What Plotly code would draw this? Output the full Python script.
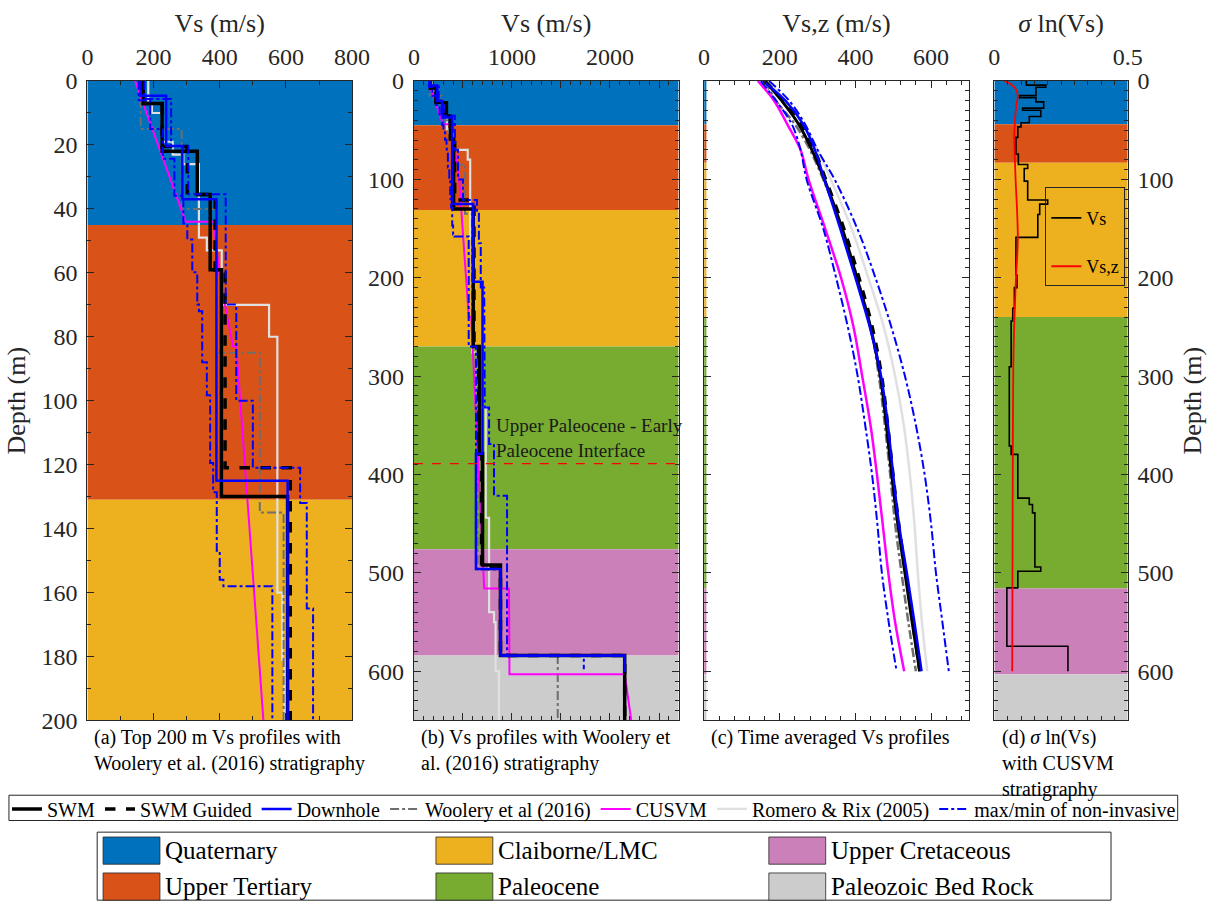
import plotly.graph_objects as go

W, H = 1231, 919
FONT = "Liberation Serif"
INK = "#262626"

# ---------------- stratigraphy ----------------
strata_names = ["Quaternary", "Upper Tertiary", "Claiborne/LMC", "Paleocene",
                "Upper Cretaceous", "Paleozoic Bed Rock"]
strata_colors = ["#0072BD", "#D95319", "#EDB120", "#77AC30", "#CC80B9", "#CCCCCC"]
woolery_tops = [0, 45, 131, 270, 476, 584]
cusvm_tops = [0, 44, 83, 240, 516, 603]
strata_bottom = 650
interface_depth = 389

# ---------------- Vs profiles (layer top depth m, Vs m/s) ----------------
swm_tops = [0, 7, 22, 35.5, 59, 130, 270, 379, 492, 584]
swm_vs = [169, 226, 332, 371, 405, 605, 667, 700, 883, 2150]
swm_bottom = 650

guided_tops = [0, 7, 20.5, 35.5, 60, 121, 270, 379, 495, 584]
guided_vs = [169, 226, 302, 386, 416, 613, 660, 690, 883, 2150]
guided_bottom = 650

downhole_tops = [0, 4.6, 20.3, 37, 125, 204, 379, 496, 584]
downhole_vs = [161, 238, 287, 390, 605, 700, 633, 883, 2150]
downhole_bottom = 601

woolery_layer_tops = [0, 15, 40, 85, 135, 270, 497, 584]
woolery_vs = [161, 285, 390, 521, 593, 650, 883, 1467]
woolery_bottom = 650

rr_tops = [0, 7, 10, 19, 23, 26, 49, 53, 70, 80, 160, 181, 276, 332, 444, 540, 550, 600]
rr_vs = [184, 195, 228, 258, 290, 337, 361, 406, 549, 574, 589, 596, 650, 733, 767, 817, 833, 867]
rr_bottom = 650

max_tops = [0, 5.6, 20.3, 35.4, 69.9, 100, 121, 132, 165, 210, 276, 332, 369, 421.5, 584.4]
max_vs = [172, 253, 305, 418, 450, 500, 643, 663, 682, 717, 723, 767, 817, 950, 2150]
max_bottom = 601

min_tops = [0, 6, 15, 24.3, 35.9, 44.6, 49.6, 59.8, 69.9, 72, 88, 98.3, 119.5, 128.6,
            146.9, 156, 158, 270, 496, 584.4]
min_vs = [155, 190, 228, 263, 290, 302, 317, 332, 337, 347, 361, 371, 380, 391,
          400, 411, 559, 633, 883, 1733]
min_bottom = 598

cusvm_depth = [0, 44, 44, 62, 83, 83, 240, 240, 516, 516, 603, 603, 650]
cusvm_vs = [144, 297, 381, 401, 440, 450, 560, 585, 717, 970, 975, 2150, 2217]

# ---------------- time averaged Vs,z ----------------
vsz_depth = [0, 20, 44, 70, 100, 150, 200, 250, 300, 350, 400, 450, 500, 550, 600]
vsz_swm = [161, 205, 250, 285, 318, 365, 404, 440, 466, 482, 496, 512, 531, 550, 570]
vsz_guided = [161, 210, 255, 292, 322, 370, 410, 445, 470, 486, 500, 515, 533, 551, 570]
vsz_downhole = [155, 215, 262, 293, 318, 360, 400, 438, 468, 486, 500, 515, 536, 556, 575]
vsz_woolery = [161, 190, 240, 280, 315, 365, 405, 440, 462, 478, 492, 505, 522, 540, 560]
vsz_cusvm = [142, 185, 220, 255, 276, 320, 362, 395, 418, 440, 457, 472, 487, 505, 529]
vsz_rr = [170, 215, 262, 300, 335, 390, 434, 475, 505, 528, 544, 556, 565, 576, 590]
vsz_max = [172, 225, 267, 300, 345, 405, 453, 495, 531, 560, 583, 600, 613, 630, 647]
vsz_min = [150, 190, 232, 255, 271, 315, 349, 380, 406, 426, 444, 458, 470, 488, 509]

# ---------------- sigma ln(Vs) ----------------
sig_tops = [0, 4.2, 6.4, 14.8, 17, 21.2, 27.6, 29.7, 36, 42.4, 46.6, 57.3, 74.2, 84.8,
            89, 101.8, 120.9, 125.1, 135.7, 159, 197.2, 210, 231, 243.9, 290.5, 371,
            379.6, 424, 430.5, 439, 494, 498.3, 515.3, 574.6]
sig_vals = [0.12, 0.193, 0.156, 0.094, 0.156, 0.185, 0.106, 0.174, 0.131, 0.10, 0.088,
            0.081, 0.09, 0.125, 0.112, 0.125, 0.20, 0.17, 0.163, 0.081, 0.085, 0.075,
            0.069, 0.063, 0.056, 0.063, 0.088, 0.131, 0.143, 0.152, 0.174, 0.088,
            0.047, 0.276]
sig_bottom = 600
sigz_depth = [0, 3, 8, 15, 25, 53, 95, 159, 201, 244, 290, 400, 500, 600]
sigz_vals = [0.038, 0.06, 0.08, 0.088, 0.082, 0.075, 0.079, 0.088, 0.081, 0.075,
             0.071, 0.069, 0.068, 0.067]

# ---------------- axis ranges ----------------
range_a = [0, 800]
range_b = [0, 2700]
range_c = [0, 700]
range_d = [0, 0.5]


def steps(tops, vals, bottom):
    xs, ys = [], []
    for i, v in enumerate(vals):
        t = tops[i]
        b = tops[i + 1] if i + 1 < len(tops) else bottom
        xs += [v, v]
        ys += [t, b]
    return xs, ys


def px(x):
    return x / W


def py(y):
    return 1 - y / H


fig = go.Figure()


def add_strata(tops, xr, xa, ya):
    for i, name in enumerate(strata_names):
        top = tops[i]
        bot = tops[i + 1] if i + 1 < len(tops) else strata_bottom
        fig.add_trace(go.Bar(
            x=[(xr[0] + xr[1]) / 2], y=[bot - top], base=[top], width=[xr[1] - xr[0]],
            marker=dict(color=strata_colors[i], line=dict(width=0)),
            xaxis=xa, yaxis=ya, showlegend=False, hoverinfo="skip", name=name))


add_strata(woolery_tops, range_a, "x", "y")
add_strata(woolery_tops, range_b, "x2", "y2")
add_strata(cusvm_tops, [0, 6], "x3", "y3")
add_strata(cusvm_tops, range_d, "x4", "y4")

styles = {
    "SWM": dict(color="black", width=3.5, dash="solid", rank=1),
    "SWM Guided": dict(color="black", width=3.5, dash="dash", rank=2),
    "Downhole": dict(color="#0000FF", width=2.5, dash="solid", rank=3),
    "Woolery et al (2016)": dict(color="#6E6E6E", width=2, dash="dashdot", rank=4),
    "CUSVM": dict(color="#FF00FF", width=2, dash="solid", rank=5),
    "Romero & Rix (2005)": dict(color="#E0E0E0", width=2.2, dash="solid", rank=6),
    "max/min of non-invasive": dict(color="#0000FF", width=2, dash="dashdot", rank=7),
}


def add_line(xs, ys, name, xa, ya, legend=False, width=None, shape="linear"):
    st = styles[name]
    fig.add_trace(go.Scatter(
        x=xs, y=ys, mode="lines", name=name, xaxis=xa, yaxis=ya,
        line=dict(color=st["color"], width=width or st["width"], dash=st["dash"], shape=shape),
        showlegend=legend, legendrank=st["rank"], hoverinfo="skip"))


profiles = [
    ("Romero & Rix (2005)", steps(rr_tops, rr_vs, rr_bottom)),
    ("Woolery et al (2016)", steps(woolery_layer_tops, woolery_vs, woolery_bottom)),
    ("CUSVM", (cusvm_vs, cusvm_depth)),
    ("SWM", steps(swm_tops, swm_vs, swm_bottom)),
    ("SWM Guided", steps(guided_tops, guided_vs, guided_bottom)),
    ("Downhole", steps(downhole_tops, downhole_vs, downhole_bottom)),
    ("max/min of non-invasive", steps(max_tops, max_vs, max_bottom)),
    ("max/min of non-invasive", steps(min_tops, min_vs, min_bottom)),
]
shown = set()
for name, (xs, ys) in profiles:
    add_line(xs, ys, name, "x", "y", legend=name not in shown)
    shown.add(name)
    add_line(xs, ys, name, "x2", "y2")

# interface line in panel (b)
fig.add_trace(go.Scatter(x=range_b, y=[interface_depth, interface_depth], mode="lines",
                         line=dict(color="#FF0000", width=1.4, dash="dash"),
                         xaxis="x2", yaxis="y2", showlegend=False, hoverinfo="skip"))

# panel (c)
vsz = [
    ("Romero & Rix (2005)", vsz_rr, 2.5),
    ("Woolery et al (2016)", vsz_woolery, 2.5),
    ("CUSVM", vsz_cusvm, 2.5),
    ("SWM", vsz_swm, 3),
    ("SWM Guided", vsz_guided, 3),
    ("Downhole", vsz_downhole, 2.5),
    ("max/min of non-invasive", vsz_max, 2),
    ("max/min of non-invasive", vsz_min, 2),
]
for name, vals, wd in vsz:
    add_line(vals, vsz_depth, name, "x3", "y3", width=wd, shape="spline")

# panel (d)
sx, sy = steps(sig_tops, sig_vals, sig_bottom)
fig.add_trace(go.Scatter(x=sx, y=sy, mode="lines", name="Vs", legend="legend2",
                         legendgroup="g1", line=dict(color="black", width=1.6),
                         xaxis="x4", yaxis="y4", hoverinfo="skip"))
fig.add_trace(go.Scatter(x=sigz_vals, y=sigz_depth, mode="lines", name="Vs,z",
                         legend="legend2", legendgroup="g2",
                         line=dict(color="#FF0000", width=1.8, shape="spline"),
                         xaxis="x4", yaxis="y4", hoverinfo="skip"))

# ---------------- axes ----------------
ydom = [py(728), py(70)]
dom_a = [px(83), px(353)]
dom_b = [px(416), px(686)]
dom_c = [px(712), px(982)]
dom_d = [px(1008), px(1144)]

TICK = dict(family=FONT, size=24, color=INK)
TITLE = dict(family=FONT, size=26, color=INK)


def xaxis(domain, rng, title, anchor, minor_dtick, dtick=None, tickvals=None, ticktext=None):
    d = dict(domain=domain, range=rng, side="top", anchor=anchor,
             title=dict(text=title, font=TITLE, standoff=4),
             showline=True, linecolor=INK, linewidth=1, mirror="allticks",
             ticks="inside", ticklen=7, tickwidth=1, tickcolor=INK,
             tickfont=TICK, ticklabelstandoff=5,
             showgrid=False, zeroline=False, fixedrange=True,
             minor=dict(ticks="inside", ticklen=4, dtick=minor_dtick, tick0=0,
                        tickcolor=INK, showgrid=False))
    if dtick is not None:
        d.update(dtick=dtick, tick0=0)
    if tickvals is not None:
        d.update(tickmode="array", tickvals=tickvals, ticktext=ticktext)
    return d


def yaxis(rng, anchor, dtick, side="left", labels=True, title="", standoff=10):
    return dict(domain=ydom, range=rng, anchor=anchor, side=side,
                title=dict(text=title, font=TITLE, standoff=standoff),
                showline=True, linecolor=INK, linewidth=1, mirror="allticks",
                ticks="inside", ticklen=7, tickwidth=1, tickcolor=INK,
                dtick=dtick, tick0=0, showticklabels=labels,
                tickfont=TICK, ticklabelstandoff=4,
                showgrid=False, zeroline=False, fixedrange=True,
                minor=dict(ticks="inside", ticklen=4, dtick=10, tick0=0,
                           tickcolor=INK, showgrid=False))


b_ticks = [0, 500, 1000, 1500, 2000, 2500]
b_text = ["0", "", "1000", "", "2000", ""]

fig.update_layout(
    xaxis=xaxis(dom_a, range_a, "Vs (m/s)", "y", 100, dtick=200),
    xaxis2=xaxis(dom_b, range_b, "Vs (m/s)", "y2", 100, tickvals=b_ticks, ticktext=b_text),
    xaxis3=xaxis(dom_c, range_c, "Vs,z (m/s)", "y3", 40, dtick=200),
    xaxis4=xaxis(dom_d, range_d, "<i>σ</i> ln(Vs)", "y4", 0.05,
                 tickvals=[0, 0.5], ticktext=["0", "0.5"]),
    yaxis=yaxis([200, 0], "x", 20, title="Depth (m)", standoff=8),
    yaxis2=yaxis([650, 0], "x2", 100),
    yaxis3=yaxis([650, 0], "x3", 100, labels=False),
    yaxis4=yaxis([650, 0], "x4", 100, side="right", title="Depth (m)", standoff=10),
)

fig.update_layout(
    width=W, height=H, margin=dict(l=0, r=0, t=0, b=0),
    paper_bgcolor="white", plot_bgcolor="white", barmode="overlay",
    font=dict(family=FONT, color=INK),
    legend=dict(orientation="h", x=px(1), y=py(799), xanchor="left", yanchor="top",
                font=dict(family=FONT, size=20, color="black"),
                bgcolor="rgba(0,0,0,0)", borderwidth=0, traceorder="normal",
                itemwidth=30, tracegroupgap=0),
    legend2=dict(x=px(1060), y=py(179), xanchor="left", yanchor="top",
                 title=dict(text=" ", font=dict(family=FONT, size=9)),
                 font=dict(family=FONT, size=18, color="black"),
                 bgcolor="rgba(0,0,0,0)", bordercolor=INK, borderwidth=1,
                 traceorder="grouped", tracegroupgap=22),
)

annotations = []
shapes = []

captions = [
    (88, "(a) Top 200 m Vs profiles with<br>Woolery et al. (2016) stratigraphy"),
    (421, "(b) Vs profiles with Woolery et<br>al. (2016) stratigraphy"),
    (717, "(c) Time averaged Vs profiles"),
    (1014, "(d) <i>σ</i> ln(Vs)<br>with CUSVM<br>stratigraphy"),
]
for x0, txt in captions:
    annotations.append(dict(text=txt, x=px(x0), y=py(732), xref="paper", yref="paper",
                            xanchor="left", yanchor="top", align="left", showarrow=False,
                            font=dict(family=FONT, size=20, color="black")))

annotations.append(dict(text="Upper Paleocene - Early<br>Paleocene Interface",
                        x=820, y=interface_depth - 1, xref="x2", yref="y2",
                        xanchor="left", yanchor="bottom", align="left", showarrow=False,
                        font=dict(family=FONT, size=19, color="#1a1a1a")))

# box around the line-style legend
shapes.append(dict(type="rect", xref="paper", yref="paper", x0=px(3), x1=px(1195),
                   y0=py(831), y1=py(805), line=dict(color=INK, width=1),
                   fillcolor="rgba(0,0,0,0)", layer="above"))

# stratigraphy legend
shapes.append(dict(type="rect", xref="paper", yref="paper", x0=px(93), x1=px(1127),
                   y0=py(913), y1=py(843), line=dict(color=INK, width=1),
                   fillcolor="rgba(0,0,0,0)", layer="above"))
for i, name in enumerate(strata_names):
    col, row = i // 2, i % 2
    x0 = 99 + col * 339.5
    y0 = 848 + row * 37
    shapes.append(dict(type="rect", xref="paper", yref="paper", x0=px(x0), x1=px(x0 + 58),
                       y0=py(y0 + 28), y1=py(y0), fillcolor=strata_colors[i],
                       line=dict(color=INK, width=0.8), layer="above"))
    annotations.append(dict(text=name, x=px(x0 + 61), y=py(y0 + 14), xref="paper",
                            yref="paper", xanchor="left", yanchor="middle",
                            showarrow=False, font=dict(family=FONT, size=25, color="black")))

fig.update_layout(annotations=annotations, shapes=shapes)

fig.write_html("out.html")
